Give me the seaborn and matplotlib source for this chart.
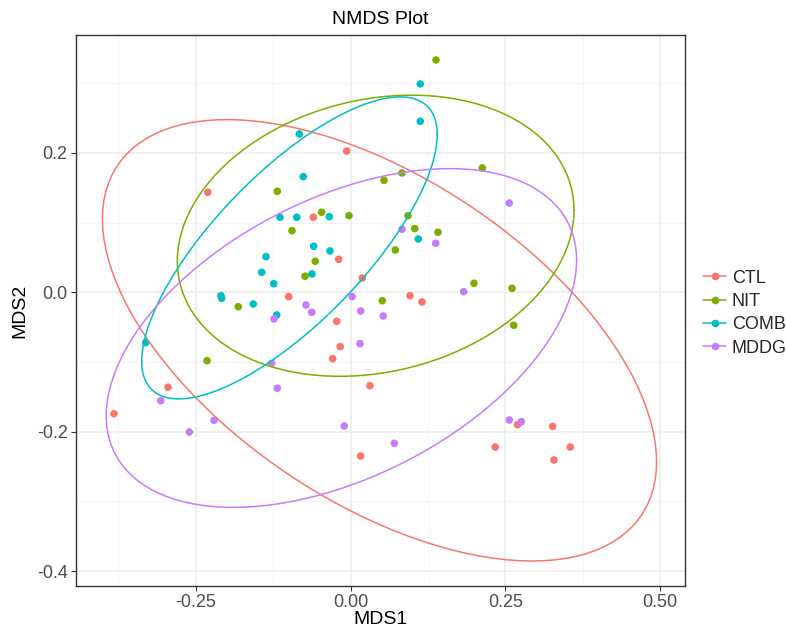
import numpy as np
import pandas as pd
import matplotlib
matplotlib.use("Agg")
import matplotlib.pyplot as plt
from matplotlib.lines import Line2D
from matplotlib.ticker import FixedLocator
import seaborn as sns

# ---------------- data ----------------
groups = ["CTL", "NIT", "COMB", "MDDG"]
colors = ["#F8766D", "#7CAE00", "#00BFC4", "#C77CFF"]

ctl_x = [-0.2307, -0.0063, -0.0602, -0.0192, 0.0189, -0.0999, 0.0959, 0.1153, -0.0224, -0.0166,
         -0.0289, 0.0313, -0.2948, -0.3820, 0.0163, 0.2697, 0.3263, 0.2336, 0.3547, 0.3284]
ctl_y = [0.1435, 0.2027, 0.1076, 0.0473, 0.0205, -0.0063, -0.0049, -0.0139, -0.0416, -0.0780,
         -0.0953, -0.1340, -0.1363, -0.1742, -0.2349, -0.1900, -0.1923, -0.2220, -0.2220, -0.2406]

nit_x = [0.1379, 0.0539, 0.0830, 0.2126, -0.1183, -0.0467, -0.0026, 0.0927, -0.0946, 0.1035,
         0.1411, 0.0722, -0.0570, -0.0736, 0.1992, 0.0512, -0.1813, -0.2318, 0.2606, 0.2633]
nit_y = [0.3333, 0.1607, 0.1712, 0.1783, 0.1449, 0.1148, 0.1099, 0.1099, 0.0884, 0.0913,
         0.0861, 0.0607, 0.0445, 0.0230, 0.0129, -0.0121, -0.0207, -0.0981, 0.0057, -0.0473]

comb_x = [0.1125, 0.1125, -0.0828, -0.0764, -0.1140, -0.0870, -0.0344, -0.0596, -0.0333, 0.1093,
          -0.0623, -0.1366, -0.1435, -0.1242, -0.2092, -0.2081, -0.1571, -0.1193, -0.3308]
comb_y = [0.2989, 0.2453, 0.2271, 0.1659, 0.1076, 0.1076, 0.1085, 0.0660, 0.0593, 0.0765,
          0.0263, 0.0511, 0.0287, 0.0123, -0.0049, -0.0086, -0.0168, -0.0326, -0.0723]

mddg_x = [0.0830, 0.1374, 0.1826, 0.0027, -0.0720, -0.0628, 0.0163, 0.0528, 0.0152, -0.1237,
          -0.1274, -0.1183, -0.3066, -0.2604, -0.2205, -0.0102, 0.0706, 0.2562, 0.2756, 0.2562]
mddg_y = [0.0904, 0.0703, 0.0009, -0.0063, -0.0182, -0.0287, -0.0268, -0.0340, -0.0737, -0.0383,
          -0.1019, -0.1377, -0.1555, -0.2004, -0.1836, -0.1918, -0.2166, -0.1832, -0.1856, 0.1281]

x_ticks = [-0.25, 0.00, 0.25, 0.50]
x_tick_labels = ["-0.25", "0.00", "0.25", "0.50"]
y_ticks = [-0.4, -0.2, 0.0, 0.2]
y_tick_labels = ["-0.4", "-0.2", "0.0", "0.2"]

df = pd.DataFrame({
    "MDS1": ctl_x + nit_x + comb_x + mddg_x,
    "MDS2": ctl_y + nit_y + comb_y + mddg_y,
    "Group": (["CTL"] * len(ctl_x) + ["NIT"] * len(nit_x)
              + ["COMB"] * len(comb_x) + ["MDDG"] * len(mddg_x)),
})


# ------------- stat_ellipse (type = "t") -------------
def cov_trob(x, nu=5, maxit=25, tol=0.01):
    n, p = x.shape
    loc = x.mean(axis=0)
    w = np.ones(n)
    for _ in range(maxit):
        w0 = w
        X = x - loc
        A = np.sqrt(w / w.sum())[:, None] * X
        _, d, vt = np.linalg.svd(A, full_matrices=False)
        wX = X @ vt.T @ np.diag(1.0 / d)
        Q = (wX ** 2).sum(axis=1)
        w = (nu + p) / (nu + Q)
        loc = (w[:, None] * x).sum(axis=0) / w.sum()
        if np.all(np.abs(w - w0) < tol):
            break
    sX = np.sqrt(w)[:, None] * X
    cov = sX.T @ sX / n
    return loc, cov


def t_ellipse(xs, ys, level=0.95, segments=120):
    pts = np.column_stack([xs, ys])
    center, shape = cov_trob(pts)
    dfn = 2
    dfd = len(xs) - 1
    fq = (dfd / 2.0) * ((1 - level) ** (-2.0 / dfd) - 1)  # qf(level, 2, dfd)
    radius = np.sqrt(dfn * fq)
    chol = np.linalg.cholesky(shape).T
    ang = np.linspace(0, 2 * np.pi, segments + 1)
    circle = np.column_stack([np.cos(ang), np.sin(ang)])
    return center + radius * circle @ chol


# ---------------- plot ----------------
sns.set_style("white")
plt.rcParams["font.family"] = ["Liberation Sans", "DejaVu Sans"]

fig = plt.figure(figsize=(7.86, 6.30), dpi=100)
ax = fig.add_axes([0.0967, 0.0698, 0.7744, 0.8742])

palette = dict(zip(groups, colors))
sns.scatterplot(data=df, x="MDS1", y="MDS2", hue="Group", hue_order=groups,
                palette=palette, s=30, linewidth=0, ax=ax, legend=False, zorder=3)

for g, c in zip(groups, colors):
    sub = df[df["Group"] == g]
    ell = t_ellipse(sub["MDS1"].values, sub["MDS2"].values)
    ax.plot(ell[:, 0], ell[:, 1], color=c, lw=1.1, zorder=4)

ax.set_xlim(-0.4433, 0.5394)
ax.set_ylim(-0.4214, 0.3687)

ax.xaxis.set_major_locator(FixedLocator(x_ticks))
ax.set_xticklabels(x_tick_labels)
ax.yaxis.set_major_locator(FixedLocator(y_ticks))
ax.set_yticklabels(y_tick_labels)
ax.xaxis.set_minor_locator(FixedLocator([-0.375, -0.125, 0.125, 0.375]))
ax.yaxis.set_minor_locator(FixedLocator([-0.3, -0.1, 0.1, 0.3]))

ax.grid(True, which="major", color="#EBEBEB", lw=1.1, zorder=0)
ax.grid(True, which="minor", color="#F2F2F2", lw=0.6, zorder=0)
ax.set_axisbelow(True)

for sp in ax.spines.values():
    sp.set_color("#333333")
    sp.set_linewidth(1.0)

ax.tick_params(axis="both", which="major", length=3.5, width=0.8, color="#333333",
               labelsize=13, labelcolor="#4D4D4D", pad=2.5, bottom=True, left=True)
ax.tick_params(axis="both", which="minor", length=0)

ax.set_xlabel("MDS1", fontsize=14, color="black", labelpad=0)
ax.set_ylabel("MDS2", fontsize=14, color="black", labelpad=6)
ax.set_title("NMDS Plot", fontsize=14, color="black", pad=8)

handles = [Line2D([0], [0], color=c, lw=1.1, marker="o", markersize=5.5, markeredgewidth=0)
           for c in colors]
fig.legend(handles, groups, loc="center left", bbox_to_anchor=(0.885, 0.503),
           frameon=False, fontsize=13, handlelength=1.3, handletextpad=0.3,
           labelspacing=0.35, borderaxespad=0)

fig.savefig("out.png", dpi=100)
